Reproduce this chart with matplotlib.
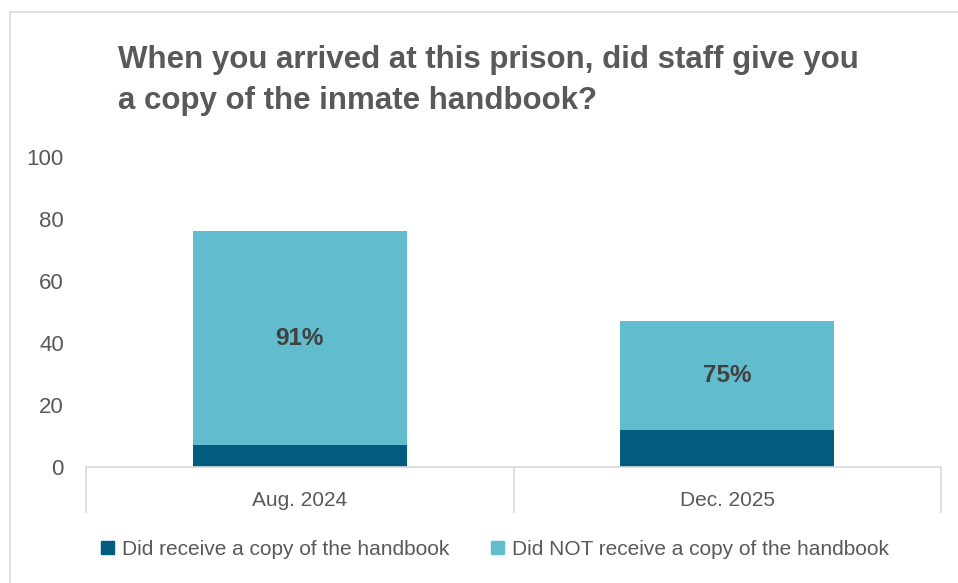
import matplotlib.pyplot as plt
from matplotlib.lines import Line2D
from matplotlib.patches import Patch

# survey answers per wave
waves = ['Aug. 2024', 'Dec. 2025']
received = [7, 12]
not_received = [69, 35]
pct_labels = ['91%', '75%']
series_names = ['Did receive a copy of the handbook',
                'Did NOT receive a copy of the handbook']

dark = '#015C7E'
light = '#61BCCD'
grey = '#595959'

plt.rcParams['font.family'] = ['Liberation Sans', 'DejaVu Sans']

fig = plt.figure(figsize=(9.58, 5.83), dpi=100)
ax = fig.add_axes([0.0898, 0.199, 0.8925, 0.5317])

x = range(len(waves))
ax.bar(x, received, width=0.5, color=dark, zorder=2)
ax.bar(x, not_received, width=0.5, bottom=received, color=light, zorder=2)

# percentage labels in the middle of the upper segment
for i in x:
    mid = received[i] + not_received[i] / 2
    ax.text(i, mid, pct_labels[i], ha='center', va='center',
            fontsize=17.5, fontweight='bold', color='#404040')

ax.set_xlim(-0.5, 1.5)
ax.set_ylim(0, 100)
ax.set_yticks(range(0, 101, 20))
ax.set_xticks(list(x))
ax.set_xticklabels(waves)
ax.tick_params(axis='y', length=0, pad=16, labelsize=16, labelcolor=grey)
ax.tick_params(axis='x', length=0, pad=17, labelsize=15, labelcolor=grey)

for s in ['left', 'right', 'top']:
    ax.spines[s].set_visible(False)
ax.spines['bottom'].set_color('#D9D9D9')
ax.spines['bottom'].set_linewidth(1.2)

# category dividers below the axis
ax.vlines([-0.5, 0.5, 1.5], 0, -0.15, transform=ax.get_xaxis_transform(),
          colors='#D9D9D9', linewidth=1.2, clip_on=False)

fig.text(0.123, 0.862, 'When you arrived at this prison, did staff give you\n'
         'a copy of the inmate handbook?', ha='left', va='center',
         fontsize=22.5, fontweight='bold', color=grey, linespacing=1.48)

handles = [Patch(color=dark), Patch(color=light)]
fig.legend(handles, series_names, loc='center', bbox_to_anchor=(0.517, 0.058),
           ncol=2, frameon=False, fontsize=15, labelcolor=grey,
           handlelength=0.6, handleheight=0.6, handletextpad=0.4,
           columnspacing=2.0)

# outer chart frame (left and top edges)
fig.add_artist(Line2D([0.0104, 0.0104], [0, 0.979], color='#D9D9D9', lw=1.2))
fig.add_artist(Line2D([0.0104, 1], [0.979, 0.979], color='#D9D9D9', lw=1.2))

fig.savefig('out.png', dpi=100)
